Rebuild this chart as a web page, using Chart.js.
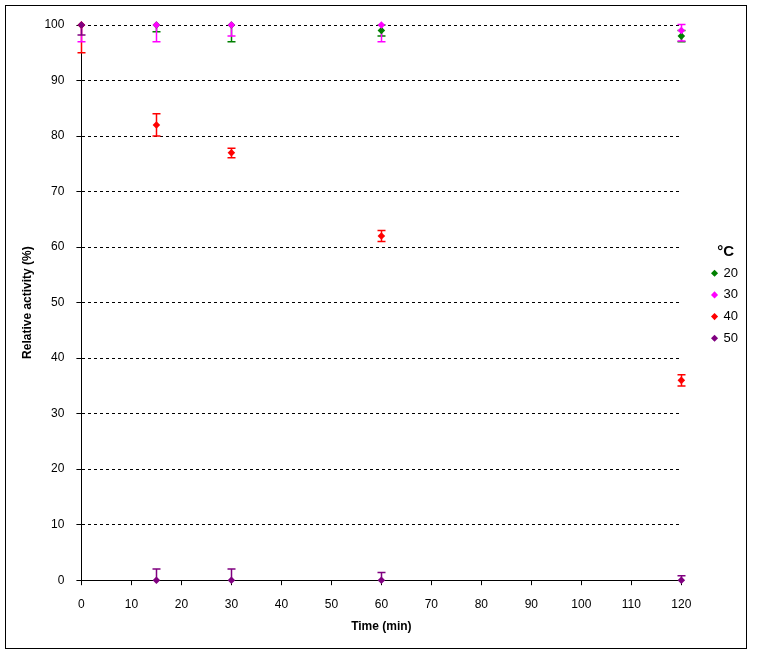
<!DOCTYPE html>
<html><head><meta charset="utf-8">
<script src="https://cdn.jsdelivr.net/npm/chart.js@4/dist/chart.umd.min.js"></script>
<style>html,body{margin:0;padding:0;background:#fff}#wrap{width:757px;height:660px}</style>
</head><body><div id="wrap"><canvas id="c" width="757" height="660"></canvas></div>
<script>
const times = [0, 15, 30, 60, 120];
const seriesLabels = ['20', '30', '40', '50'];
const seriesColors = ['#008000', '#FF00FF', '#FF0000', '#800080'];
const act20 = [100, 100, 100, 99, 98];
const act30 = [100, 100, 100, 100, 99];
const act40 = [100, 82, 77, 62, 36];
const act50 = [100, 0, 0, 0, 0];
const errPlus20 = [0, 0, 0, 1, 1];
const errMinus20 = [0, 1.2, 3, 1, 1];
const errPlus30 = [0, 0, 0, 0, 1.1];
const errMinus30 = [3, 3, 2, 3, 1.9];
const errPlus40 = [0, 2, 0.8, 1, 1];
const errMinus40 = [5, 2, 0.9, 1, 1];
const errPlus50 = [0, 2, 2, 1.4, 0.8];
const errMinus50 = [1.8, 0, 0, 0, 0];
const yTicks = [0, 10, 20, 30, 40, 50, 60, 70, 80, 90, 100];
const xTicks = [0, 10, 20, 30, 40, 50, 60, 70, 80, 90, 100, 110, 120];

const values = [act20, act30, act40, act50];
const plus = [errPlus20, errPlus30, errPlus40, errPlus50];
const minus = [errMinus20, errMinus30, errMinus40, errMinus50];
const errDrawOrder = [2, 0, 1, 3];

const FONT = "'Liberation Sans', Arial, sans-serif";

const frame = {
  id: 'frame',
  beforeDraw(chart) {
    const ctx = chart.ctx;
    ctx.save();
    ctx.fillStyle = '#fff';
    ctx.fillRect(0, 0, chart.width, chart.height);
    ctx.strokeStyle = '#000';
    ctx.lineWidth = 1;
    ctx.strokeRect(5.5, 5.5, 741, 643);
    ctx.restore();
  }
};

const errorBars = {
  id: 'errorBars',
  beforeDatasetsDraw(chart) {
    const ctx = chart.ctx;
    const xs = chart.scales.x, ys = chart.scales.y;
    ctx.save();
    ctx.lineWidth = 1.5;
    errDrawOrder.forEach(si => {
      ctx.strokeStyle = seriesColors[si];
      times.forEach((t, i) => {
        const v = values[si][i];
        const px = Math.round(xs.getPixelForValue(t)) + 0.5;
        const py = ys.getPixelForValue(v);
        const top = ys.getPixelForValue(v + plus[si][i]);
        const bot = ys.getPixelForValue(v - minus[si][i]);
        ctx.beginPath();
        if (plus[si][i] > 0) {
          ctx.moveTo(px, py); ctx.lineTo(px, top);
          ctx.moveTo(px - 4, top); ctx.lineTo(px + 4, top);
        }
        if (minus[si][i] > 0) {
          ctx.moveTo(px, py); ctx.lineTo(px, bot);
          ctx.moveTo(px - 4, bot); ctx.lineTo(px + 4, bot);
        }
        ctx.stroke();
      });
    });
    ctx.restore();
  }
};

const datasets = seriesLabels.map((lab, si) => ({
  label: lab,
  data: times.map((t, i) => ({x: t, y: values[si][i]})),
  backgroundColor: seriesColors[si],
  borderColor: seriesColors[si],
  pointStyle: 'rectRot',
  pointRadius: 3.8,
  pointHoverRadius: 3.8,
  borderWidth: 0,
  showLine: false,
  clip: false,
  order: seriesLabels.length - si
}));

new Chart(document.getElementById('c'), {
  type: 'scatter',
  data: { datasets },
  plugins: [frame, errorBars],
  options: {
    responsive: false,
    animation: false,
    events: [],
    layout: { padding: { left: 20, top: 25, right: 9, bottom: 22 } },
    plugins: {
      tooltip: { enabled: false },
      legend: {
        position: 'right',
        align: 'start',
        title: { display: true, text: '°C', color: '#000', font: { family: FONT, size: 15, weight: 'bold' }, padding: { top: 219, bottom: -4 } },
        labels: {
          usePointStyle: true, boxWidth: 5, boxHeight: 5, padding: 8.7,
          color: '#000', font: { family: FONT, size: 13 },
          sort: (a, b) => a.datasetIndex - b.datasetIndex
        }
      }
    },
    scales: {
      x: {
        type: 'linear', min: 0, max: 120,
        afterBuildTicks(s) { s.ticks = xTicks.map(v => ({value: v})); },
        grid: { drawOnChartArea: false, drawTicks: true, tickLength: 5, color: '#000' },
        border: { display: true, color: '#000', width: 1 },
        ticks: { color: '#000', font: { family: FONT, size: 12 }, padding: 12, maxRotation: 0, autoSkip: false },
        title: { display: true, text: 'Time (min)', color: '#000', font: { family: FONT, size: 12, weight: 'bold' }, padding: { top: -4, bottom: 4 } }
      },
      y: {
        type: 'linear', min: 0, max: 100,
        afterBuildTicks(s) { s.ticks = yTicks.map(v => ({value: v})); },
        grid: { drawOnChartArea: true, drawTicks: true, tickLength: 5, color: '#000', lineWidth: 1 },
        border: { display: true, color: '#000', width: 1, dash: [3, 3] },
        ticks: { color: '#000', font: { family: FONT, size: 12 }, padding: 12 },
        title: { display: true, text: 'Relative activity (%)', color: '#000', font: { family: FONT, size: 12, weight: 'bold' }, padding: { top: 0, bottom: -2 } }
      },
      yR: {
        position: 'right', display: true, min: 0, max: 100,
        grid: { display: false, drawTicks: false },
        border: { display: false },
        ticks: { display: false },
        afterFit(s) { s.width = 22; }
      }
    }
  }
});
</script>
</body></html>
